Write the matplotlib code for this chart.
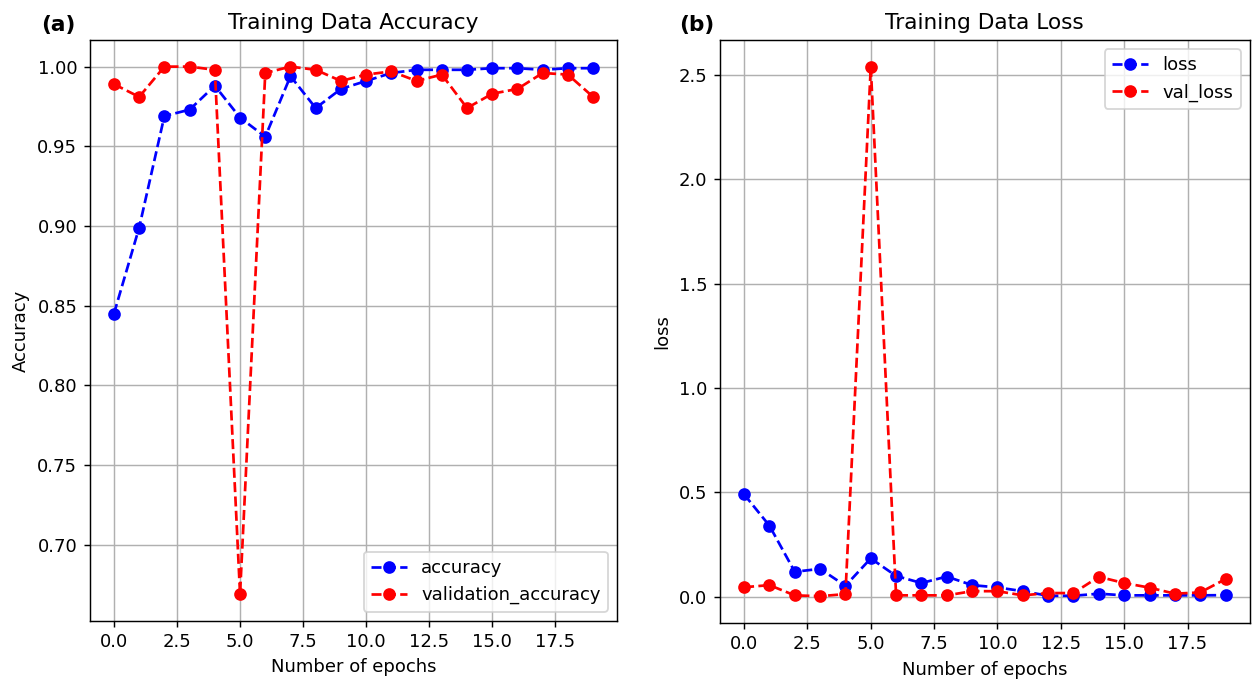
import matplotlib
matplotlib.use("Agg")
import matplotlib.pyplot as plt
import numpy as np

epochs = np.arange(20)

accuracy = [0.845, 0.899, 0.969, 0.973, 0.988, 0.968, 0.956, 0.994, 0.974, 0.986,
            0.991, 0.996, 0.998, 0.998, 0.998, 0.999, 0.999, 0.998, 0.999, 0.999]
val_accuracy = [0.989, 0.981, 1.000, 1.000, 0.998, 0.669, 0.996, 1.000, 0.998, 0.991,
                0.995, 0.997, 0.991, 0.995, 0.974, 0.983, 0.986, 0.996, 0.995, 0.981]

loss = [0.491, 0.341, 0.120, 0.134, 0.053, 0.184, 0.100, 0.066, 0.097, 0.056,
        0.045, 0.027, 0.005, 0.005, 0.015, 0.007, 0.007, 0.007, 0.007, 0.008]
val_loss = [0.046, 0.056, 0.007, 0.003, 0.013, 2.540, 0.007, 0.007, 0.007, 0.027,
            0.027, 0.007, 0.018, 0.018, 0.096, 0.066, 0.044, 0.015, 0.021, 0.085]

# the reference looks like a default matplotlib figure scaled up ~1.3x
DPI = 130
fig = plt.figure(figsize=(1255 / DPI, 682 / DPI), dpi=DPI)
ax1 = fig.add_axes([0.0717, 0.090, 0.420, 0.851])
ax2 = fig.add_axes([0.5737, 0.087, 0.422, 0.854])

ax1.plot(epochs, accuracy, "bo--", label="accuracy")
ax1.plot(epochs, val_accuracy, "ro--", label="validation_accuracy")
ax1.set_title("Training Data Accuracy")
ax1.set_xlabel("Number of epochs")
ax1.set_ylabel("Accuracy")
ax1.grid(True)
ax1.legend(loc="lower right")

ax2.plot(epochs, loss, "bo--", label="loss")
ax2.plot(epochs, val_loss, "ro--", label="val_loss")
ax2.set_title("Training Data Loss")
ax2.set_xlabel("Number of epochs")
ax2.set_ylabel("loss")
ax2.grid(True)
ax2.legend(loc="upper right")

fig.text(0.033, 0.955, "(a)", fontsize=12, fontweight="bold")
fig.text(0.541, 0.955, "(b)", fontsize=12, fontweight="bold")

fig.savefig("out.png", dpi=DPI)
